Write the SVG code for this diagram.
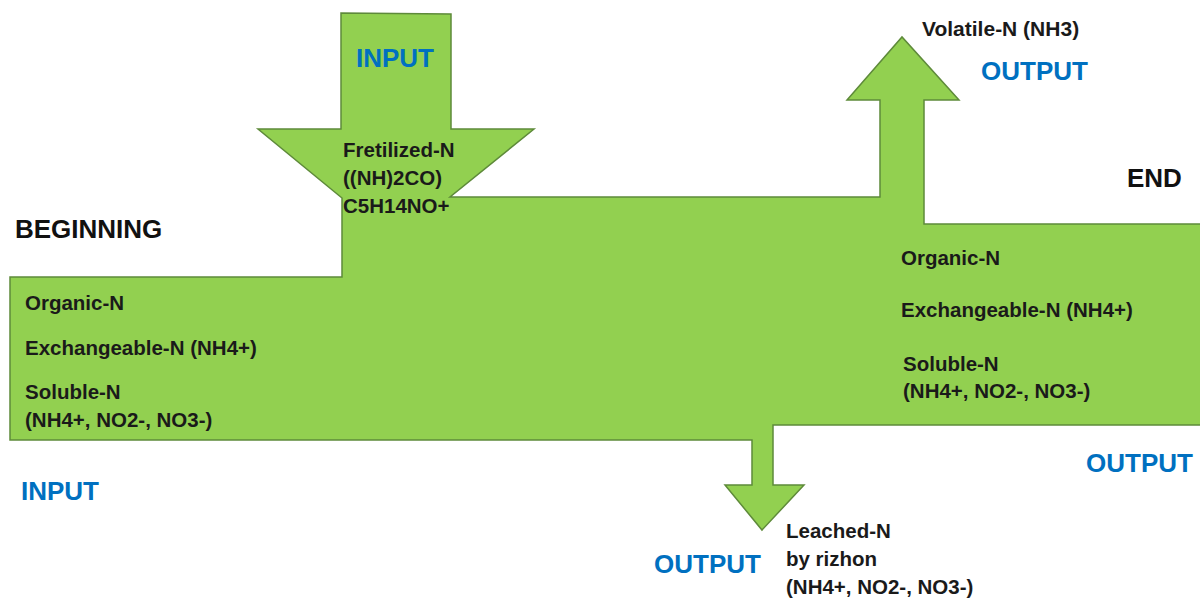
<svg xmlns="http://www.w3.org/2000/svg" width="1200" height="600" viewBox="0 0 1200 600">
  <style>
    .shape { fill: #92D050; stroke: #5E8A3A; stroke-width: 1.5; stroke-linejoin: miter; }
    .t { font-family: "Liberation Sans", Arial, sans-serif; font-weight: bold; font-size: 20.5px; fill: #1a1a1a; }
    .h { font-family: "Liberation Sans", Arial, sans-serif; font-weight: bold; font-size: 26px; fill: #111111; }
    .b { font-family: "Liberation Sans", Arial, sans-serif; font-weight: bold; font-size: 26px; fill: #0070C0; }
  </style>
  <rect width="1200" height="600" fill="#ffffff"/>
  <g id="flow-shape">
    <path class="shape" d="M10,277 L342,277 L342,198 L258,129 L341,129 L341,13 L451,14 L451,129 L534,129 L450,197 L880,197 L880,100 L847,100 L902,37 L959,100 L924,100 L924,224 L1202,224 L1202,425 L773,425 L773,485 L804,485 L762,530 L725,485 L752,485 L752,440 L10,440 Z"/>
  </g>
  <g id="connectors"></g>
  <g id="beginning">
    <text class="h" x="15" y="238">BEGINNING</text>
    <text class="t" x="25" y="310">Organic-N</text>
    <text class="t" x="25" y="355">Exchangeable-N (NH4+)</text>
    <text class="t" x="25" y="399">Soluble-N</text>
    <text class="t" x="25" y="427">(NH4+, NO2-, NO3-)</text>
    <text class="b" x="21" y="500">INPUT</text>
  </g>
  <g id="fertilizer-input">
    <text class="b" x="356" y="67">INPUT</text>
    <text class="t" x="343" y="157">Fretilized-N</text>
    <text class="t" x="343" y="185">((NH)2CO)</text>
    <text class="t" x="343" y="213">C5H14NO+</text>
  </g>
  <g id="volatile-output">
    <text class="t" x="922" y="36" style="font-size:21px">Volatile-N (NH3)</text>
    <text class="b" x="981" y="80">OUTPUT</text>
  </g>
  <g id="end">
    <text class="h" x="1127" y="187">END</text>
    <text class="t" x="901" y="265">Organic-N</text>
    <text class="t" x="901" y="317">Exchangeable-N (NH4+)</text>
    <text class="t" x="903" y="371">Soluble-N</text>
    <text class="t" x="903" y="398">(NH4+, NO2-, NO3-)</text>
    <text class="b" x="1086" y="472">OUTPUT</text>
  </g>
  <g id="leached-output">
    <text class="t" x="786" y="538">Leached-N</text>
    <text class="t" x="786" y="566">by rizhon</text>
    <text class="t" x="786" y="594">(NH4+, NO2-, NO3-)</text>
    <text class="b" x="654" y="573">OUTPUT</text>
  </g>
</svg>
